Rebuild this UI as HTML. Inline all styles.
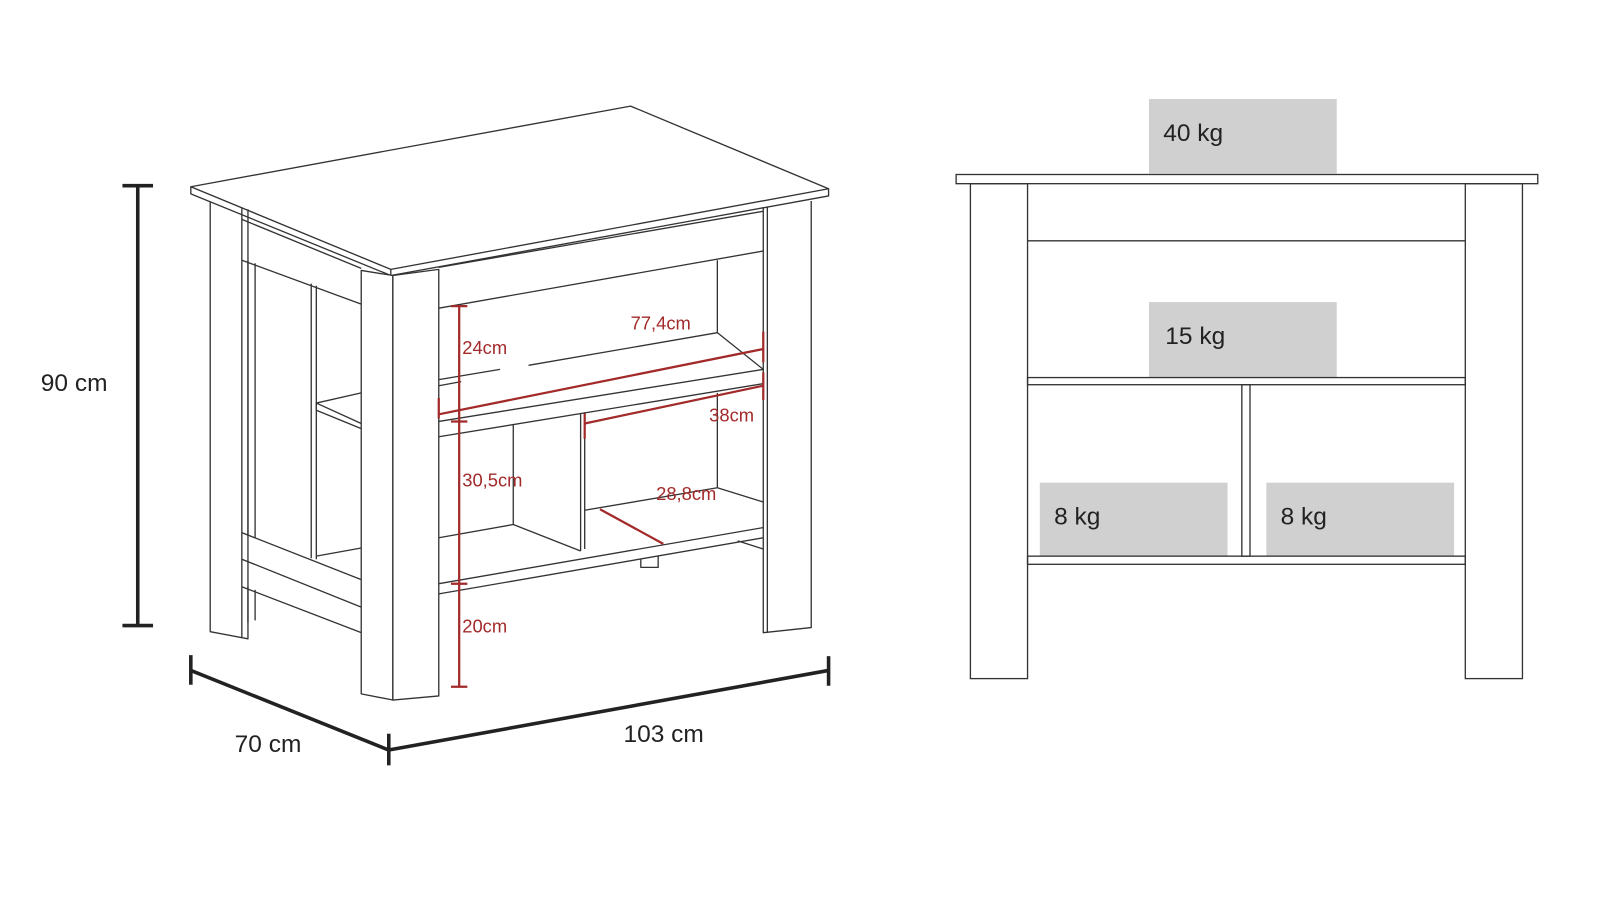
<!DOCTYPE html>
<html><head><meta charset="utf-8"><style>
html,body{margin:0;padding:0;background:#fff;}
svg{display:block;}
text{font-family:"Liberation Sans",sans-serif;}
</style></head><body>
<svg width="1600" height="908" viewBox="0 0 1568 889.8" preserveAspectRatio="none" xmlns="http://www.w3.org/2000/svg">
<g fill="none" stroke="#333" stroke-width="1.3" stroke-linejoin="round">
<polygon points="187,183 618,104 812,185 383,264" fill="#fff"/>
<polyline points="187,183 187,190 383,270 812,192 812,185"/>
<line x1="383" y1="264" x2="383" y2="270"/>
<polyline points="206,198 206,619 243,626 243,205"/>
<line x1="237" y1="204" x2="237" y2="625"/>
<line x1="237" y1="215" x2="354" y2="263"/>
<line x1="237" y1="255" x2="354" y2="298"/>
<line x1="243" y1="255" x2="243" y2="525"/>
<line x1="250" y1="258" x2="250" y2="527"/>
<line x1="305" y1="278" x2="305" y2="547"/>
<line x1="310" y1="280" x2="310" y2="548"/>
<line x1="237" y1="522" x2="354" y2="568"/>
<line x1="237" y1="548" x2="354" y2="595"/>
<line x1="237" y1="575" x2="354" y2="620"/>
<line x1="243" y1="575" x2="243" y2="610"/>
<line x1="250" y1="578" x2="250" y2="608"/>
<polyline points="354,385 310,395 354,415"/>
<line x1="310" y1="395" x2="310" y2="402"/>
<line x1="310" y1="402" x2="354" y2="420"/>
<line x1="310" y1="545" x2="354" y2="537"/>
<polygon points="354,265 385,270 385,686 354,680" fill="#fff"/>
<polygon points="385,270 430,264 430,682 385,686" fill="#fff"/>
<polyline points="748,203 748,620 795,615 795,197"/>
<line x1="752" y1="203" x2="752" y2="620"/>
<line x1="430" y1="262" x2="748" y2="207"/>
<line x1="430" y1="302" x2="748" y2="246"/>
<line x1="703" y1="255" x2="703" y2="326"/>
<line x1="430" y1="372" x2="490" y2="362"/>
<line x1="430" y1="378" x2="452" y2="374"/>
<polyline points="748,362 703,326 518,358"/>
<line x1="430" y1="413" x2="748" y2="362"/>
<line x1="430" y1="428" x2="748" y2="376"/>
<line x1="703" y1="385" x2="703" y2="478"/>
<line x1="703" y1="478" x2="748" y2="492"/>
<line x1="503" y1="416" x2="503" y2="514"/>
<line x1="569" y1="405" x2="569" y2="540"/>
<line x1="573" y1="404" x2="573" y2="538"/>
<line x1="503" y1="514" x2="569" y2="540"/>
<line x1="430" y1="527" x2="503" y2="514"/>
<line x1="573" y1="500" x2="703" y2="478"/>
<line x1="430" y1="572" x2="748" y2="517"/>
<line x1="430" y1="582" x2="748" y2="527"/>
<polyline points="628,548 628,556 645,556 645,545"/>
<line x1="723" y1="530" x2="748" y2="538"/>
</g>
<g stroke="#222" stroke-width="3.5" fill="none">
<line x1="135" y1="182" x2="135" y2="613"/>
<line x1="120" y1="182" x2="150" y2="182"/>
<line x1="120" y1="613" x2="150" y2="613"/>
<line x1="187" y1="657" x2="381" y2="735"/>
<line x1="381" y1="735" x2="812" y2="657"/>
<line x1="187" y1="642" x2="187" y2="671"/>
<line x1="381" y1="719" x2="381" y2="750"/>
<line x1="812" y1="643" x2="812" y2="672"/>
</g>
<g font-size="24" fill="#222">
<text x="40" y="383">90 cm</text>
<text x="230" y="737">70 cm</text>
<text x="611" y="727">103 cm</text>
</g>
<g stroke="#a32a2a" stroke-width="2.2" fill="none">
<line x1="450" y1="300" x2="450" y2="673"/>
<line x1="442" y1="300" x2="458" y2="300"/>
<line x1="442" y1="413" x2="458" y2="413"/>
<line x1="442" y1="572" x2="458" y2="572"/>
<line x1="442" y1="673" x2="458" y2="673"/>
<line x1="430" y1="406" x2="748" y2="342"/>
<line x1="430" y1="390" x2="430" y2="410"/>
<line x1="748" y1="325" x2="748" y2="355"/>
<line x1="573" y1="415" x2="748" y2="378"/>
<line x1="573" y1="405" x2="573" y2="430"/>
<line x1="748" y1="365" x2="748" y2="392"/>
<line x1="588" y1="499" x2="650" y2="533"/>
</g>
<g font-size="18" fill="#a32a2a">
<text x="453" y="347">24cm</text>
<text x="618" y="323">77,4cm</text>
<text x="695" y="413">38cm</text>
<text x="453" y="477">30,5cm</text>
<text x="643" y="490">28,8cm</text>
<text x="453" y="620">20cm</text>
</g>
<g fill="#d0d0d0">
<rect x="1126" y="97" width="184" height="73"/>
<rect x="1126" y="296" width="184" height="74"/>
<rect x="1019" y="473" width="184" height="72"/>
<rect x="1241" y="473" width="184" height="72"/>
</g>
<g fill="none" stroke="#333" stroke-width="1.3">
<rect x="937" y="171" width="570" height="9"/>
<rect x="951" y="180" width="56" height="485"/>
<rect x="1436" y="180" width="56" height="485"/>
<line x1="1007" y1="236" x2="1436" y2="236"/>
<rect x="1007" y="370" width="429" height="7"/>
<rect x="1217" y="377" width="8" height="168"/>
<rect x="1007" y="545" width="429" height="8"/>
</g>
<g font-size="24" fill="#222">
<text x="1140" y="138">40 kg</text>
<text x="1142" y="337">15 kg</text>
<text x="1033" y="514">8 kg</text>
<text x="1255" y="514">8 kg</text>
</g>
</svg>
</body></html>
